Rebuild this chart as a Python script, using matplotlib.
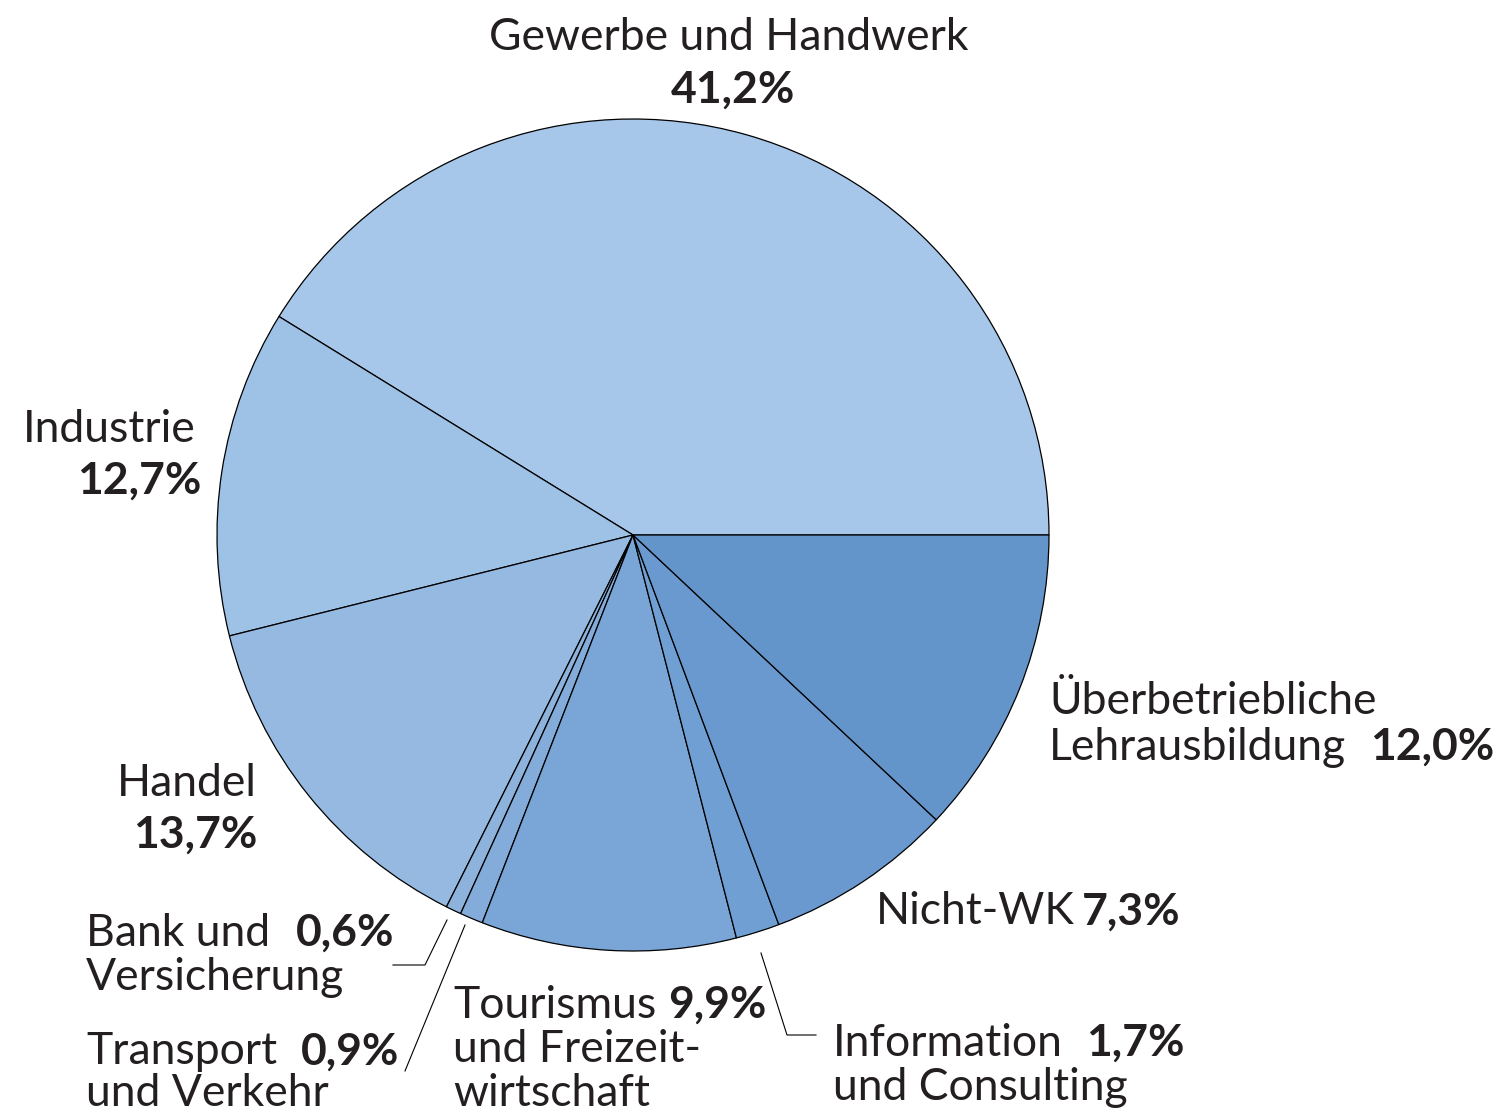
import numpy as np
import matplotlib.pyplot as plt

# data
sectors = ["Gewerbe und Handwerk", "Industrie", "Handel", "Bank und Versicherung",
           "Transport und Verkehr", "Tourismus und Freizeitwirtschaft",
           "Information und Consulting", "Nicht-WK", "Überbetriebliche Lehrausbildung"]
shares = [41.2, 12.7, 13.7, 0.6, 0.9, 9.9, 1.7, 7.3, 12.0]
colors = ["#A6C7E9", "#9EC1E6", "#95B9E0", "#8DB3DD", "#84ACDA",
          "#7AA6D7", "#70A0D3", "#6A99CF", "#6395CA"]

W, H = 1497, 1114
plt.rcParams['font.family'] = ['Lato', 'DejaVu Sans']
FS = 32

fig = plt.figure(figsize=(W / 100, H / 100), dpi=100)
ax = fig.add_axes([0, 0, 1, 1])

cx, cy, r = 633, H - 535, 416
ax.pie(shares, colors=colors, startangle=0, counterclock=True, center=(cx, cy), radius=r,
       wedgeprops=dict(edgecolor='black', linewidth=0.9), frame=True)
ax.set_xlim(0, W)
ax.set_ylim(0, H)
ax.set_aspect('equal')
ax.axis('off')

def pct(v):
    return ("%.1f%%" % v).replace(".", ",")

def txt(x, y, s, ha='left', bold=False):
    ax.text(x, H - y, s, ha=ha, va='center', fontsize=FS,
            fontweight='bold' if bold else 'normal', color='#231F20')

# Gewerbe
txt(729, 37, sectors[0], ha='center')
txt(733, 90, pct(shares[0]), ha='center', bold=True)
# Industrie
txt(196, 430, "Industrie", ha='right')
txt(201, 481, pct(shares[1]), ha='right', bold=True)
# Handel
txt(257, 784, "Handel", ha='right')
txt(257, 835, pct(shares[2]), ha='right', bold=True)
# Bank
txt(86, 933, "Bank und")
txt(345, 933, pct(shares[3]), ha='center', bold=True)
txt(86, 978, "Versicherung")
# Transport
txt(86, 1052, "Transport")
txt(350, 1052, pct(shares[4]), ha='center', bold=True)
txt(86, 1093, "und Verkehr")
# Tourismus
txt(453, 1005, "Tourismus")
txt(717, 1005, pct(shares[5]), ha='center', bold=True)
txt(453, 1050, "und Freizeit-")
txt(453, 1093, "wirtschaft")
# Information
txt(833, 1043, "Information")
txt(1135, 1043, pct(shares[6]), ha='center', bold=True)
txt(833, 1088, "und Consulting")
# Nicht-WK
txt(876, 912, "Nicht-WK")
txt(1131, 912, pct(shares[7]), ha='center', bold=True)
# Überbetriebliche
txt(1049, 702, "Überbetriebliche")
txt(1049, 747, "Lehrausbildung")
txt(1432, 747, pct(shares[8]), ha='center', bold=True)

# leader lines
lk = dict(color='black', linewidth=0.8)
ax.plot([447, 425, 393], [H - 920, H - 965, H - 965], **lk)
ax.plot([465, 405], [H - 925, H - 1071], **lk)
ax.plot([761, 787, 816], [H - 953, H - 1035, H - 1035], **lk)

fig.savefig("out.png", dpi=100)
